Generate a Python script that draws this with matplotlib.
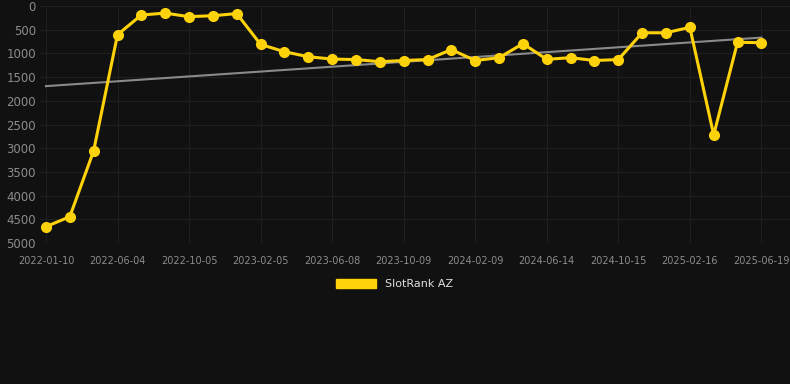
import numpy as np
import matplotlib
matplotlib.use("Agg")
import matplotlib.pyplot as plt
from matplotlib.patches import Patch

# snapshot dates (only every 3rd is labelled on the axis)
tick_labels = ["2022-01-10", "2022-06-04", "2022-10-05", "2023-02-05",
               "2023-06-08", "2023-10-09", "2024-02-09", "2024-06-14",
               "2024-10-15", "2025-02-16", "2025-06-19"]

ranks = [4655, 4445, 3055, 605, 190, 150, 225, 205, 160, 810,
         965, 1070, 1120, 1130, 1175, 1150, 1130, 920, 1150, 1090,
         795, 1125, 1090, 1150, 1130, 565, 565, 450, 2720, 765, 775]

series_name = "SlotRank AZ"

bg = "#111111"
yellow = "#FFD20A"

x = np.arange(len(ranks))

fig = plt.figure(figsize=(7.9, 3.84), dpi=100, facecolor=bg)
ax = fig.add_axes([40 / 790, 1 - 243 / 384, 750 / 790, 237 / 384])
ax.set_facecolor(bg)

# trend line (linear fit)
k, b = np.polyfit(x, ranks, 1)
ax.plot(x, k * x + b, color="#8a8a8a", lw=1.5, zorder=2)

ax.plot(x, ranks, color=yellow, lw=2.2, marker="o", markersize=7,
        zorder=3)

ax.set_ylim(5000, 0)
ax.set_xlim(-0.25, 31.2)
ax.set_yticks(np.arange(0, 5001, 500))
ax.set_xticks(x[::3])
ax.set_xticklabels(tick_labels)

ax.grid(True, color="#1f1f1f", lw=0.8)
for s in ax.spines.values():
    s.set_visible(False)
ax.tick_params(axis="both", length=0, colors="#8c8c8c")
ax.tick_params(axis="y", labelsize=8.5, pad=3)
ax.tick_params(axis="x", labelsize=7, pad=9)

# legend shows a solid block
fig.legend(handles=[Patch(color=yellow, label=series_name)], loc="center",
           bbox_to_anchor=(0.5, 1 - 284 / 384), frameon=False,
           handlelength=3.6, handleheight=0.9, fontsize=8,
           labelcolor="#e0e0e0")

fig.savefig("out.png", dpi=100, facecolor=bg)
